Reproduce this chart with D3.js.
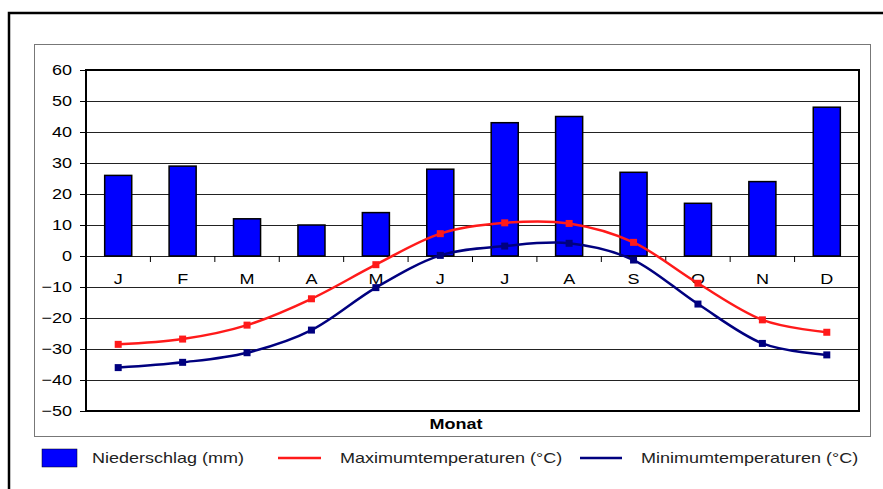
<!DOCTYPE html>
<html>
<head>
<meta charset="utf-8">
<script src="https://cdn.jsdelivr.net/npm/d3@7"></script>
<style>
  body { margin: 0; background: #fff; }
  svg text { font-family: "Liberation Sans", Arial, sans-serif; }
</style>
</head>
<body>
<div id="chart"></div>
<script>
// data
const months = ["J", "F", "M", "A", "M", "J", "J", "A", "S", "O", "N", "D"]
const precipitation = [26, 29, 12, 10, 14, 28, 43, 45, 27, 17, 24, 48]
const temp_max = [-28.5, -26.8, -22.3, -13.8, -2.8, 7.2, 10.7, 10.5, 4.4, -8.8, -20.6, -24.6]
const temp_min = [-36, -34.3, -31.2, -23.9, -10.2, 0.2, 3.2, 4.1, -1.3, -15.5, -28.2, -31.9]
const y_ticks = [60, 50, 40, 30, 20, 10, 0, -10, -20, -30, -40, -50]
const legend_labels = ["Niederschlag (mm)", "Maximumtemperaturen (°C)", "Minimumtemperaturen (°C)"]

// constants
const W = 883, H = 489
const plot = {left: 86, top: 70, right: 859, bottom: 411}
const col_bar = "#0000ff"
const col_max = "#ff1a1a"
const col_min = "#00007f"
const text_stretch = 1.2   // the original text looks wider than plain Arial

const svg = d3.select("#chart").append("svg")
    .attr("width", W)
    .attr("height", H)

// outer frame (goes past right and bottom edge)
svg.append("rect")
    .attr("x", 9).attr("y", 13)
    .attr("width", W + 20).attr("height", H + 20)
    .attr("fill", "none").attr("stroke", "#000").attr("stroke-width", 2.5)

// chart area
svg.append("rect")
    .attr("x", 34.5).attr("y", 44.5)
    .attr("width", 836).attr("height", 392)
    .attr("fill", "none").attr("stroke", "#777").attr("stroke-width", 1)

const x = d3.scaleBand()
    .domain(d3.range(months.length))
    .range([plot.left, plot.right])
    .paddingInner(0.58)
    .paddingOuter(0.29)

const xc = d3.scaleBand()
    .domain(d3.range(months.length))
    .range([plot.left, plot.right])

const y = d3.scaleLinear()
    .domain([-50, 60])
    .range([plot.bottom, plot.top])

// gridlines
svg.append("g")
    .selectAll("line")
    .data(y_ticks)
    .join("line")
        .attr("x1", plot.left).attr("x2", plot.right)
        .attr("y1", d => Math.round(y(d)) + 0.5)
        .attr("y2", d => Math.round(y(d)) + 0.5)
        .attr("stroke", "#222").attr("stroke-width", 1)

// y axis
svg.append("g")
    .attr("transform", `translate(${plot.left}, 0)`)
    .call(d3.axisLeft(y).tickValues(y_ticks).tickSize(6).tickPadding(8))
    .call(g => g.select(".domain").remove())
    .call(g => g.selectAll("line").attr("stroke", "#000"))
    .call(g => g.selectAll("text")
        .attr("font-size", 15)
        .attr("fill", "#000")
        .style("font-family", "Liberation Sans, Arial, sans-serif"))

// bars
svg.append("g")
    .selectAll("rect")
    .data(precipitation)
    .join("rect")
        .attr("x", (d, i) => x(i))
        .attr("y", d => y(d))
        .attr("width", x.bandwidth())
        .attr("height", d => y(0) - y(d))
        .attr("fill", col_bar)
        .attr("stroke", "#000")
        .attr("stroke-width", 1.5)

// category axis at zero
svg.append("g")
    .attr("transform", `translate(0, ${y(0)})`)
    .call(d3.axisBottom(xc).tickSize(0).tickPadding(17).tickFormat(i => months[i]))
    .call(g => g.select(".domain").remove())
    .call(g => g.selectAll("text")
        .attr("font-size", 15)
        .attr("fill", "#000")
        .style("font-family", "Liberation Sans, Arial, sans-serif"))

svg.append("g")
    .selectAll("line")
    .data(d3.range(1, months.length))
    .join("line")
        .attr("x1", i => xc(i)).attr("x2", i => xc(i))
        .attr("y1", y(0)).attr("y2", y(0) + 6)
        .attr("stroke", "#000").attr("stroke-width", 1)

// temperature lines
const line = d3.line()
    .x((d, i) => xc(i) + xc.bandwidth() / 2)
    .y(d => y(d))
    .curve(d3.curveCatmullRom.alpha(0))

const series = [
    {values: temp_max, color: col_max},
    {values: temp_min, color: col_min}
]
for (const s of series) {
    svg.append("path")
        .datum(s.values)
        .attr("d", line)
        .attr("fill", "none")
        .attr("stroke", s.color)
        .attr("stroke-width", 2.5)
    svg.append("g")
        .selectAll("rect")
        .data(s.values)
        .join("rect")
            .attr("x", (d, i) => xc(i) + xc.bandwidth() / 2 - 3.5)
            .attr("y", d => y(d) - 3.5)
            .attr("width", 7).attr("height", 7)
            .attr("fill", s.color)
}

// plot border
svg.append("rect")
    .attr("x", plot.left).attr("y", plot.top)
    .attr("width", plot.right - plot.left)
    .attr("height", plot.bottom - plot.top)
    .attr("fill", "none").attr("stroke", "#000").attr("stroke-width", 2)

// axis title
svg.append("text")
    .attr("x", 456).attr("y", 429)
    .attr("text-anchor", "middle")
    .attr("font-size", 15).attr("font-weight", "bold")
    .text("Monat")

// legend
const ly = 458
svg.append("rect")
    .attr("x", 42).attr("y", ly - 9)
    .attr("width", 35).attr("height", 18)
    .attr("fill", col_bar).attr("stroke", "#000").attr("stroke-width", 0.5)
svg.append("text").attr("x", 92).attr("y", ly + 5).attr("font-size", 15)
    .attr("fill", "#222").text(legend_labels[0])
svg.append("line").attr("x1", 278).attr("x2", 321).attr("y1", ly).attr("y2", ly)
    .attr("stroke", col_max).attr("stroke-width", 2.5)
svg.append("text").attr("x", 340).attr("y", ly + 5).attr("font-size", 15)
    .attr("fill", "#222").text(legend_labels[1])
svg.append("line").attr("x1", 580).attr("x2", 622).attr("y1", ly).attr("y2", ly)
    .attr("stroke", col_min).attr("stroke-width", 2.5)
svg.append("text").attr("x", 641).attr("y", ly + 5).attr("font-size", 15)
    .attr("fill", "#222").text(legend_labels[2])

// widen all text a bit
svg.selectAll("text").each(function () {
    const len = this.getComputedTextLength()
    d3.select(this)
        .attr("textLength", len * text_stretch)
        .attr("lengthAdjust", "spacingAndGlyphs")
})
</script>
</body>
</html>
